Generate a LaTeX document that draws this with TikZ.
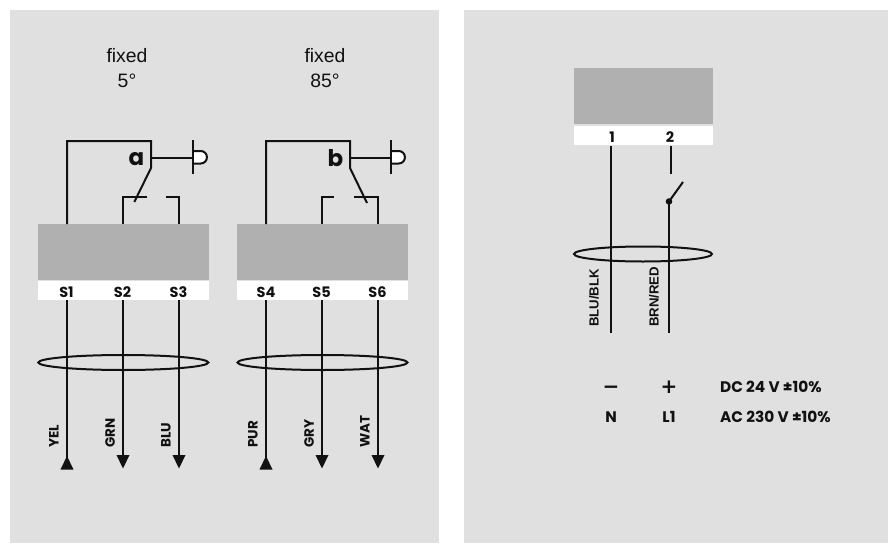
\documentclass[tikz,border=0pt]{standalone}
\usepackage{fontspec}
\setmainfont{Liberation Sans}
\newfontfamily\geo{Poppins}
\newfontfamily\symb{DejaVu Sans}
\definecolor{panel}{HTML}{E0E0E0}
\definecolor{block}{HTML}{B0B0B0}
\definecolor{ink}{HTML}{111111}
\tikzset{
 panelbox/.style={fill=panel,draw=none},
 blockbox/.style={fill=block,draw=none},
 termbox/.style={fill=white,draw=none},
 wire/.style={draw=ink,line width=2pt},
 termlabel/.style={font=\geo\bfseries\fontsize{14.5}{15}\selectfont,text=ink,inner sep=0pt},
 wirelabel/.style={font=\geo\bfseries\fontsize{13.5}{14}\selectfont,text=ink,inner sep=0pt,rotate=90,anchor=west},
 thinlabel/.style={font=\bfseries\fontsize{13.2}{14}\selectfont,text=ink,inner sep=0pt,rotate=90,anchor=west},
 fixedlabel/.style={font=\fontsize{19.4}{24.5}\selectfont,text=ink,align=center,inner sep=0pt},
 powerlabel/.style={font=\geo\bfseries\fontsize{15.3}{16}\selectfont,text=ink,inner sep=0pt},
 symlabel/.style={font=\symb\bfseries\fontsize{20}{21}\selectfont,text=ink,inner sep=0pt,anchor=base},
 letterlabel/.style={font=\geo\bfseries\fontsize{23}{24}\selectfont,text=ink,inner sep=0pt},
 tiptri/.style={fill=ink,draw=none},
}
\begin{document}
\begin{tikzpicture}[x=1pt,y=-1pt]
\useasboundingbox (0,0) rectangle (888,543);
\fill[white] (0,0) rectangle (888,543);
\fill[panelbox] (10,10) rectangle (439,543);
\fill[panelbox] (464,10) rectangle (888,543);
% modules
\fill[blockbox] (38.3,224) rectangle (209.3,280);
\fill[termbox] (38.3,281) rectangle (209.3,300);
\fill[blockbox] (237.3,224) rectangle (408.3,280);
\fill[termbox] (237.3,281) rectangle (408.3,300);
\fill[blockbox] (574,68) rectangle (713.3,124);
\fill[termbox] (574,125.7) rectangle (713.3,145);
% terminal labels
\node[termlabel] (s1) at (66.5,292) {S1};
\node[termlabel] (s2) at (122.5,292) {S2};
\node[termlabel] (s3) at (178.5,292) {S3};
\node[termlabel] (s4) at (266,292) {S4};
\node[termlabel] (s5) at (321.5,292) {S5};
\node[termlabel] (s6) at (377.5,292) {S6};
\node[termlabel] (t1) at (612,137) {1};
\node[termlabel] (t2) at (670,137) {2};
\node[fixedlabel] (f1) at (127,68) {fixed\\5°};
\node[fixedlabel] (f2) at (325,68) {fixed\\85°};
% switch a
\draw[wire] (67,224) -- (67,141) -- (151,141) -- (151,168) -- (134.3,202);
\draw[wire] (151,157.5) -- (193,157.5);
\draw[wire,fill=white] (193,151) -- (200.7,151) arc[start angle=-90,end angle=90,radius=6.25] -- (193,163.5);
\draw[wire] (193,140) -- (193,174);
\node[letterlabel] (la) at (136.5,159) {a};
\draw[wire] (123,224) -- (123,197) -- (147,197);
\draw[wire] (165.5,197) -- (179,197) -- (179,224);
% switch b
\draw[wire] (266,224) -- (266,141) -- (350,141) -- (350,168) -- (367,203);
\draw[wire] (350,157.5) -- (391,157.5);
\draw[wire,fill=white] (391,151) -- (398.7,151) arc[start angle=-90,end angle=90,radius=6.25] -- (391,163.5);
\draw[wire] (391,140) -- (391,174);
\node[letterlabel] (lb) at (335.5,158) {b};
\draw[wire] (322,224) -- (322,197) -- (334,197);
\draw[wire] (354,197) -- (378,197) -- (378,224);
% output wires
\draw[wire] (67,300) -- (67,458);
\fill[tiptri] (67,456) -- (73.5,469.5) -- (60.5,469.5) -- cycle;
\draw[wire] (123,300) -- (123,456);
\fill[tiptri] (123,468.5) -- (116.5,455) -- (129.5,455) -- cycle;
\draw[wire] (179,300) -- (179,456);
\fill[tiptri] (179,468.5) -- (172.5,455) -- (185.5,455) -- cycle;
\draw[wire] (266,300) -- (266,458);
\fill[tiptri] (266,456) -- (272.5,469.5) -- (259.5,469.5) -- cycle;
\draw[wire] (322,300) -- (322,456);
\fill[tiptri] (322,468.5) -- (315.5,455) -- (328.5,455) -- cycle;
\draw[wire] (378,300) -- (378,456);
\fill[tiptri] (378,468.5) -- (371.5,455) -- (384.5,455) -- cycle;
% cable ellipses
\draw[wire] (123.3,362.5) ellipse[x radius=85,y radius=7.5];
\draw[wire] (322.5,362.5) ellipse[x radius=85,y radius=7.5];
\draw[wire] (643,254) ellipse[x radius=69,y radius=7.5];
% wire labels
\node[wirelabel] (w1) at (54,448) {YEL};
\node[wirelabel] (w2) at (110,448) {GRN};
\node[wirelabel] (w3) at (166,448) {BLU};
\node[wirelabel] (w4) at (253,448) {PUR};
\node[wirelabel] (w5) at (309,448) {GRY};
\node[wirelabel] (w6) at (365,448) {WAT};
% right wiring
\draw[wire] (611,146) -- (611,333);
\draw[wire] (671,146) -- (671,173.5);
\draw[wire] (669,201.5) -- (669,333);
\draw[wire] (669,201.5) -- (683,182);
\fill[ink] (669,201.5) circle[radius=3.3];
\node[thinlabel] (w7) at (594,327) {BLU/BLK};
\node[thinlabel] (w8) at (654,327) {BRN/RED};
% power table
\node[symlabel] (minus) at (611,393) {−};
\node[symlabel] (plus) at (669,393) {+};
\node[powerlabel] (n) at (611,417) {N};
\node[powerlabel] (l1) at (669,417) {L1};
\node[powerlabel,anchor=west] (dc) at (720,386.5) {DC 24 V ±10\%};
\node[powerlabel,anchor=west] (ac) at (720,417) {AC 230 V ±10\%};
\end{tikzpicture}
\end{document}
